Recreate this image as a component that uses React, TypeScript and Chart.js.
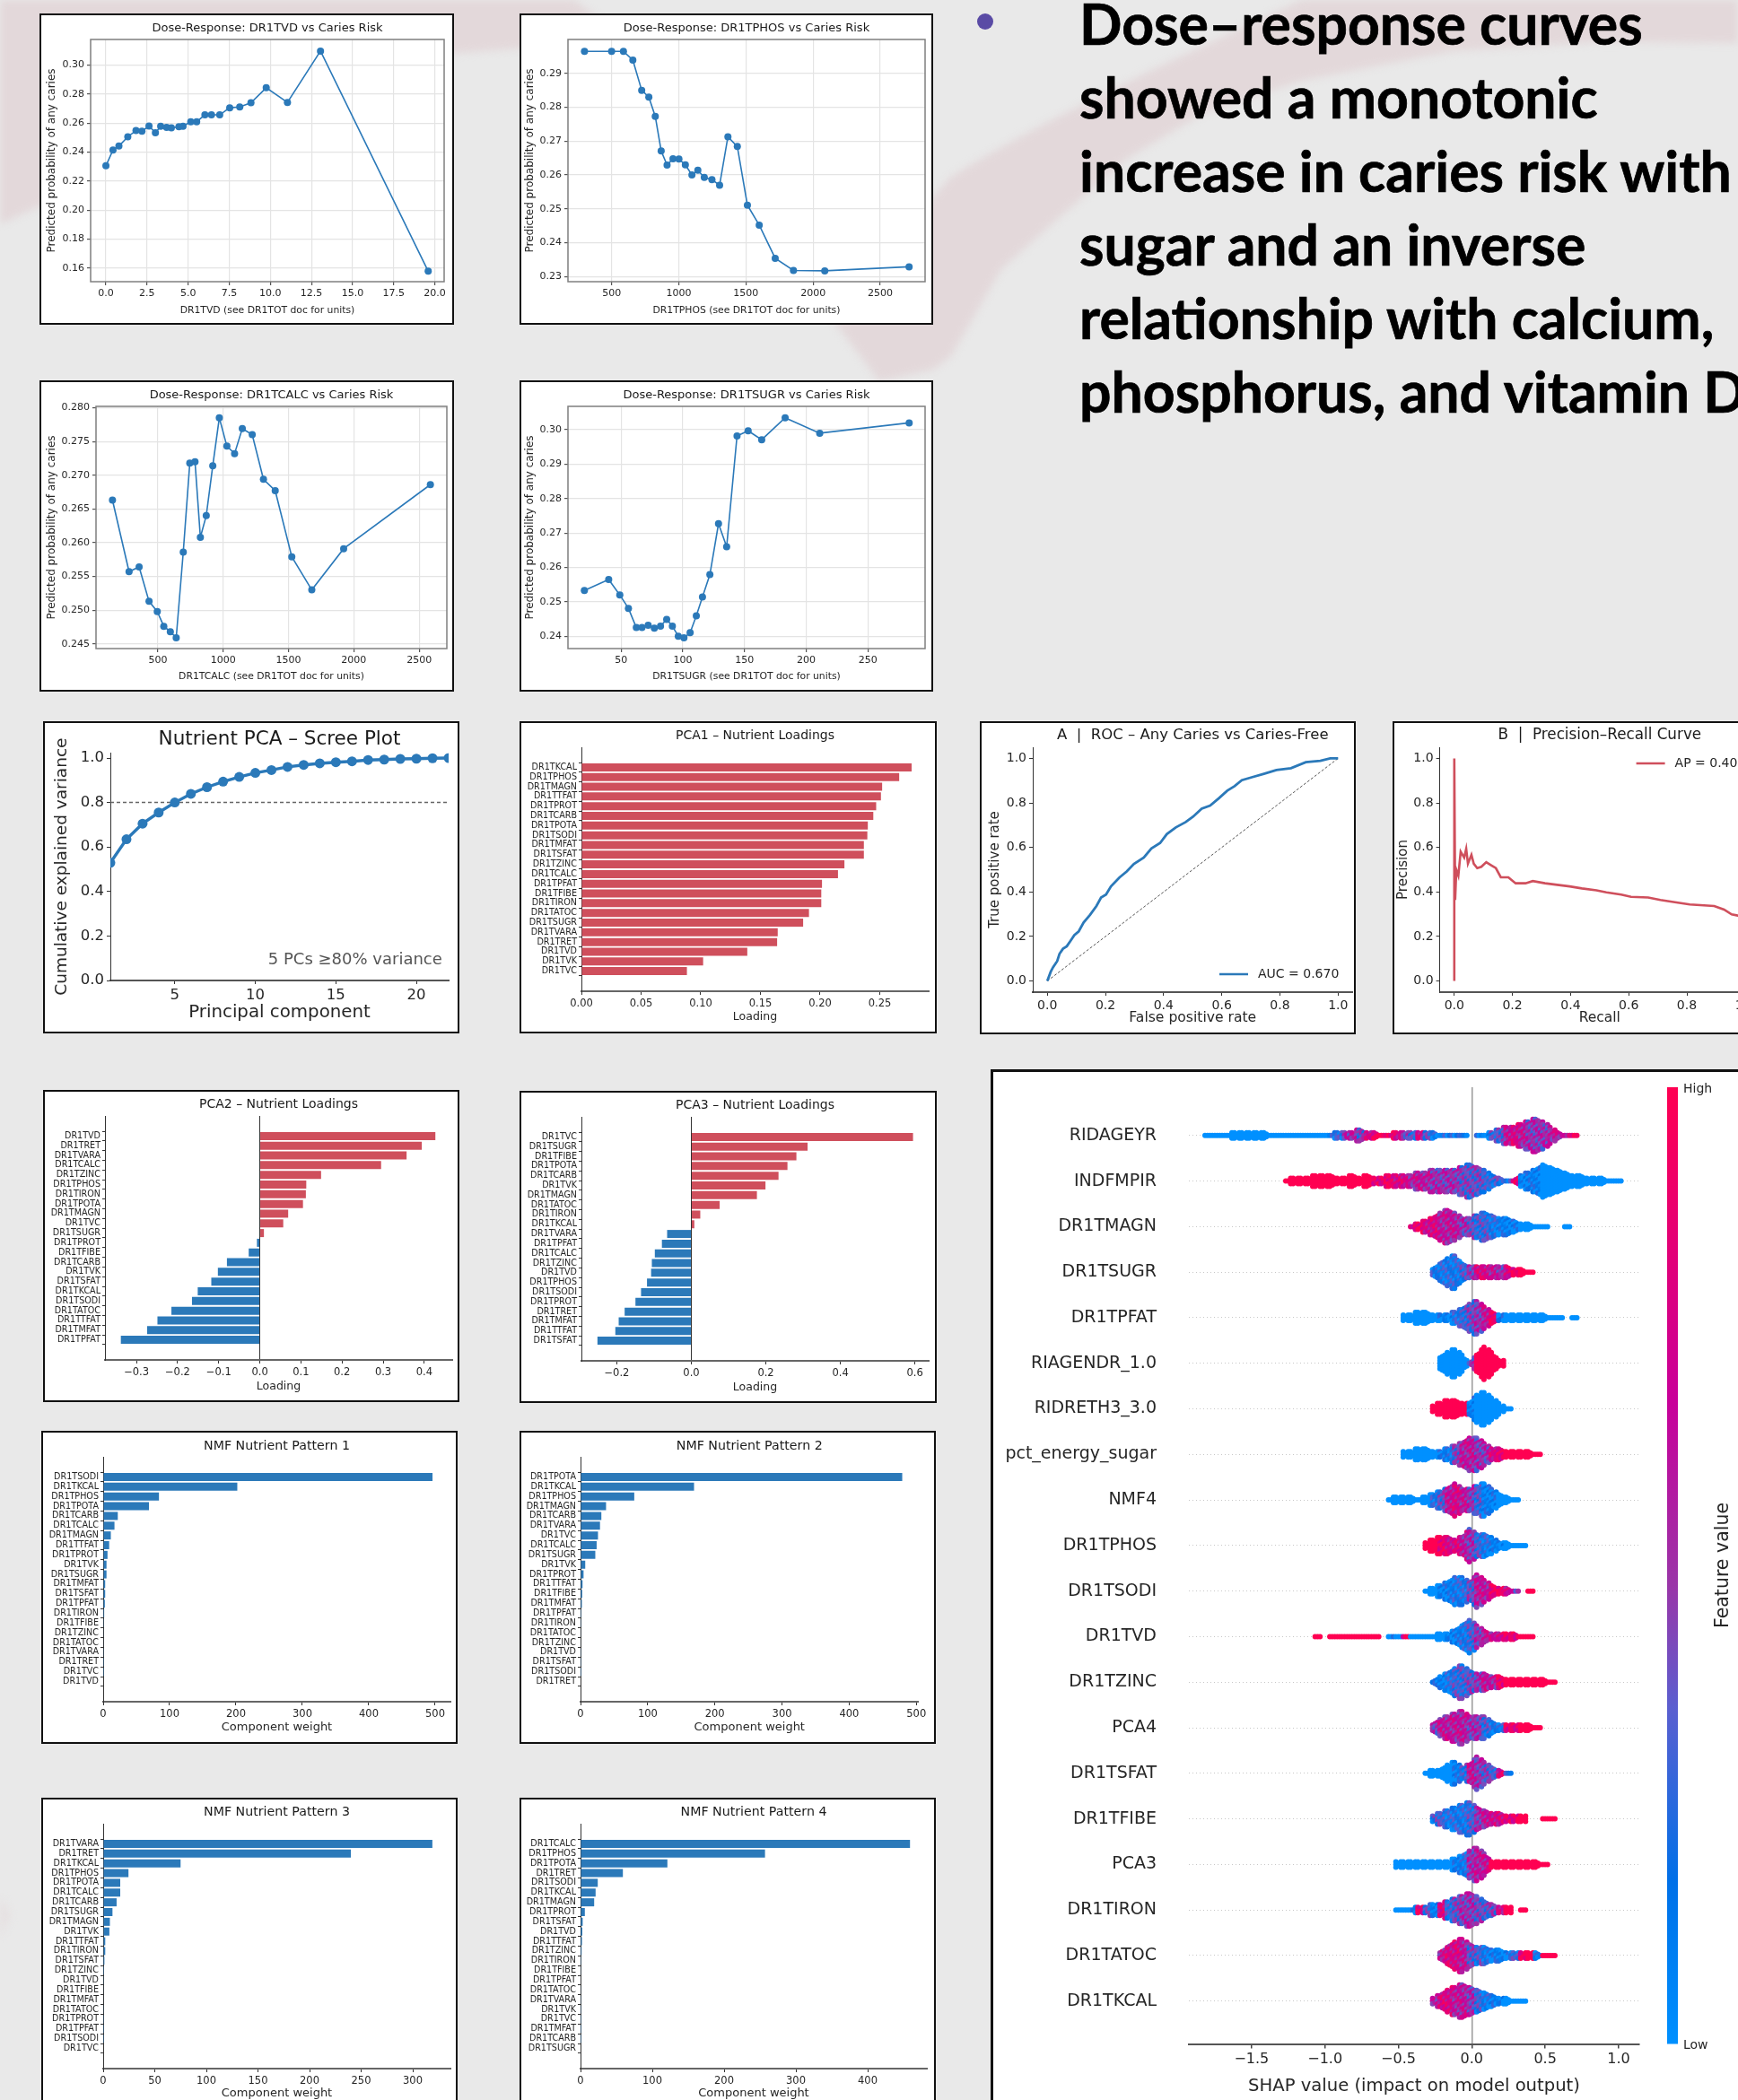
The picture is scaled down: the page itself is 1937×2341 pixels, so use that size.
import React, { useEffect, useRef } from "react";
import { Chart, registerables } from "chart.js";

Chart.register(...registerables);
Chart.defaults.font.family = '"DejaVu Sans", sans-serif';
Chart.defaults.color = "#262626";

const BLUE = "#2b79b9";
const RED = "#cf4f5c";

/* ---------- Dose-response ---------- */
const TVD_X = [0, 0.43, 0.79, 1.33, 1.83, 2.19, 2.62, 3.01, 3.33, 3.69, 3.98, 4.44, 4.69, 5.16, 5.52, 6.02, 6.42, 6.92, 7.53, 8.14, 8.82, 9.75, 11.04, 13.05, 19.6];
const TVD_Y = [0.2306, 0.2415, 0.2442, 0.2506, 0.2549, 0.2545, 0.258, 0.2533, 0.2578, 0.2571, 0.2567, 0.2575, 0.2579, 0.261, 0.261, 0.2657, 0.2657, 0.2657, 0.2706, 0.2712, 0.2741, 0.2844, 0.2743, 0.3097, 0.1579];
const TPHOS_X = [298, 500, 588, 658, 724, 777, 825, 869, 913, 957, 1001, 1049, 1098, 1142, 1190, 1247, 1304, 1366, 1436, 1511, 1599, 1718, 1854, 2087, 2715];
const TPHOS_Y = [0.2965, 0.2965, 0.2965, 0.2939, 0.285, 0.283, 0.2773, 0.2671, 0.2629, 0.2648, 0.2647, 0.263, 0.26, 0.2614, 0.2593, 0.2586, 0.257, 0.2713, 0.2684, 0.2511, 0.2452, 0.2354, 0.2318, 0.2317, 0.2329];
const TCALC_X = [152, 279, 356, 432, 495, 545, 595, 640, 694, 744, 784, 825, 870, 920, 970, 1028, 1087, 1146, 1222, 1308, 1398, 1525, 1678, 1922, 2586];
const TCALC_Y = [0.2663, 0.2557, 0.2564, 0.2513, 0.2498, 0.2476, 0.2468, 0.2459, 0.2586, 0.2718, 0.272, 0.2608, 0.264, 0.2714, 0.2785, 0.2743, 0.2732, 0.2769, 0.276, 0.2694, 0.2677, 0.2579, 0.253, 0.2591, 0.2686];
const TSUGR_X = [20.3, 40, 49, 56, 62.4, 67, 72, 77, 82, 87, 91.6, 96.4, 101, 106, 111, 116, 122, 129, 135.6, 144, 153, 164, 183, 211, 283.5];
const TSUGR_Y = [0.2533, 0.2565, 0.252, 0.2481, 0.2425, 0.2425, 0.2432, 0.2423, 0.2429, 0.2449, 0.2429, 0.24, 0.2395, 0.241, 0.2459, 0.2514, 0.2579, 0.2727, 0.266, 0.2982, 0.2997, 0.2971, 0.3035, 0.299, 0.302];

/* ---------- Scree ---------- */
const SCREE_PC = [1, 2, 3, 4, 5, 6, 7, 8, 9, 10, 11, 12, 13, 14, 15, 16, 17, 18, 19, 20, 21, 22];
const SCREE_CUM = [0.529, 0.635, 0.705, 0.755, 0.8, 0.839, 0.869, 0.894, 0.915, 0.933, 0.946, 0.96, 0.969, 0.976, 0.981, 0.985, 0.991, 0.993, 0.996, 0.997, 0.999, 1.0];

/* ---------- PCA loadings ---------- */
const PCA1_LABELS = ["DR1TKCAL", "DR1TPHOS", "DR1TMAGN", "DR1TTFAT", "DR1TPROT", "DR1TCARB", "DR1TPOTA", "DR1TSODI", "DR1TMFAT", "DR1TSFAT", "DR1TZINC", "DR1TCALC", "DR1TPFAT", "DR1TFIBE", "DR1TIRON", "DR1TATOC", "DR1TSUGR", "DR1TVARA", "DR1TRET", "DR1TVD", "DR1TVK", "DR1TVC"];
const PCA1_VALUES = [0.2767, 0.2663, 0.252, 0.251, 0.247, 0.2446, 0.24, 0.2396, 0.2367, 0.2367, 0.2204, 0.215, 0.2016, 0.201, 0.201, 0.1907, 0.1858, 0.1645, 0.164, 0.139, 0.102, 0.0884];
const PCA2_LABELS = ["DR1TVD", "DR1TRET", "DR1TVARA", "DR1TCALC", "DR1TZINC", "DR1TPHOS", "DR1TIRON", "DR1TPOTA", "DR1TMAGN", "DR1TVC", "DR1TSUGR", "DR1TPROT", "DR1TFIBE", "DR1TCARB", "DR1TVK", "DR1TSFAT", "DR1TKCAL", "DR1TSODI", "DR1TATOC", "DR1TTFAT", "DR1TMFAT", "DR1TPFAT"];
const PCA2_VALUES = [0.427, 0.394, 0.357, 0.295, 0.149, 0.113, 0.112, 0.105, 0.069, 0.057, 0.01, -0.007, -0.027, -0.08, -0.102, -0.118, -0.151, -0.165, -0.215, -0.249, -0.274, -0.338];
const PCA3_LABELS = ["DR1TVC", "DR1TSUGR", "DR1TFIBE", "DR1TPOTA", "DR1TCARB", "DR1TVK", "DR1TMAGN", "DR1TATOC", "DR1TIRON", "DR1TKCAL", "DR1TVARA", "DR1TPFAT", "DR1TCALC", "DR1TZINC", "DR1TVD", "DR1TPHOS", "DR1TSODI", "DR1TPROT", "DR1TRET", "DR1TMFAT", "DR1TTFAT", "DR1TSFAT"];
const PCA3_VALUES = [0.595, 0.312, 0.282, 0.258, 0.234, 0.199, 0.176, 0.076, 0.024, 0.008, -0.065, -0.079, -0.098, -0.106, -0.108, -0.119, -0.135, -0.15, -0.179, -0.195, -0.204, -0.252];

/* ---------- NMF patterns ---------- */
const NMF1_LABELS = ["DR1TSODI", "DR1TKCAL", "DR1TPHOS", "DR1TPOTA", "DR1TCARB", "DR1TCALC", "DR1TMAGN", "DR1TTFAT", "DR1TPROT", "DR1TVK", "DR1TSUGR", "DR1TMFAT", "DR1TSFAT", "DR1TPFAT", "DR1TIRON", "DR1TFIBE", "DR1TZINC", "DR1TATOC", "DR1TVARA", "DR1TRET", "DR1TVC", "DR1TVD"];
const NMF1_VALUES = [496, 202, 84, 69, 22, 17, 11.5, 9, 6.5, 5, 5, 3, 3, 2.5, 1.5, 1, 0.8, 0.6, 0.4, 0.2, 0.1, 0];
const NMF2_LABELS = ["DR1TPOTA", "DR1TKCAL", "DR1TPHOS", "DR1TMAGN", "DR1TCARB", "DR1TVARA", "DR1TVC", "DR1TCALC", "DR1TSUGR", "DR1TVK", "DR1TPROT", "DR1TTFAT", "DR1TFIBE", "DR1TMFAT", "DR1TPFAT", "DR1TIRON", "DR1TATOC", "DR1TZINC", "DR1TVD", "DR1TSFAT", "DR1TSODI", "DR1TRET"];
const NMF2_VALUES = [479, 169, 80, 38, 31, 29, 26, 24, 22, 7, 4.5, 3, 2.5, 2, 1.2, 1, 0.8, 0.6, 0.4, 0.3, 0.1, 0];
const NMF3_LABELS = ["DR1TVARA", "DR1TRET", "DR1TKCAL", "DR1TPHOS", "DR1TPOTA", "DR1TCALC", "DR1TCARB", "DR1TSUGR", "DR1TMAGN", "DR1TVK", "DR1TTFAT", "DR1TIRON", "DR1TSFAT", "DR1TZINC", "DR1TVD", "DR1TFIBE", "DR1TMFAT", "DR1TATOC", "DR1TPROT", "DR1TPFAT", "DR1TSODI", "DR1TVC"];
const NMF3_VALUES = [319, 240, 75, 24.5, 16.5, 16.5, 13, 9, 6.5, 6, 2, 2, 1.2, 0.8, 0.6, 0.5, 0.4, 0.3, 0.2, 0.1, 0.1, 0];
const NMF4_LABELS = ["DR1TCALC", "DR1TPHOS", "DR1TPOTA", "DR1TRET", "DR1TSODI", "DR1TKCAL", "DR1TMAGN", "DR1TPROT", "DR1TSFAT", "DR1TVD", "DR1TTFAT", "DR1TZINC", "DR1TIRON", "DR1TFIBE", "DR1TPFAT", "DR1TATOC", "DR1TVARA", "DR1TVK", "DR1TVC", "DR1TMFAT", "DR1TCARB", "DR1TSUGR"];
const NMF4_VALUES = [459, 257, 121, 59, 24, 21, 19, 6, 3, 2.5, 2, 1.5, 1, 0.8, 0.6, 0.5, 0.4, 0.3, 0.2, 0.1, 0.1, 0];

/* ---------- ROC / PR ---------- */
const ROC_FPR = [0, 0.012, 0.02, 0.034, 0.042, 0.054, 0.067, 0.079, 0.093, 0.108, 0.125, 0.147, 0.169, 0.185, 0.202, 0.219, 0.248, 0.273, 0.298, 0.332, 0.358, 0.388, 0.411, 0.442, 0.476, 0.501, 0.531, 0.56, 0.59, 0.619, 0.644, 0.669, 0.703, 0.745, 0.788, 0.838, 0.889, 0.939, 0.973, 1];
const ROC_TPR = [0, 0.042, 0.062, 0.089, 0.122, 0.145, 0.156, 0.179, 0.206, 0.223, 0.263, 0.297, 0.337, 0.375, 0.388, 0.425, 0.465, 0.492, 0.526, 0.555, 0.595, 0.62, 0.66, 0.69, 0.714, 0.738, 0.774, 0.788, 0.821, 0.855, 0.875, 0.902, 0.915, 0.931, 0.948, 0.956, 0.983, 0.989, 1, 1];
const PR_RECALL = [0, 0, 0.003, 0.007, 0.014, 0.022, 0.034, 0.041, 0.047, 0.059, 0.067, 0.079, 0.093, 0.11, 0.127, 0.143, 0.16, 0.186, 0.211, 0.245, 0.27, 0.312, 0.354, 0.397, 0.439, 0.489, 0.523, 0.574, 0.608, 0.667, 0.709, 0.759, 0.81, 0.894, 0.928, 0.954, 0.975, 1];
const PR_PRECISION = [0, 1, 0.364, 0.5, 0.473, 0.581, 0.554, 0.594, 0.527, 0.567, 0.527, 0.507, 0.513, 0.534, 0.52, 0.507, 0.466, 0.466, 0.439, 0.439, 0.449, 0.439, 0.432, 0.425, 0.416, 0.407, 0.398, 0.388, 0.378, 0.375, 0.364, 0.354, 0.344, 0.337, 0.321, 0.299, 0.294, 0.29];

/* ---------- SHAP: per feature, a profile in 0.05-wide bins:
   the first SHAP value, the stack size in each bin, and the mean feature value (0-9) in each bin */
const SHAP_FEATURES = ["RIDAGEYR", "INDFMPIR", "DR1TMAGN", "DR1TSUGR", "DR1TPFAT", "RIAGENDR_1.0", "RIDRETH3_3.0", "pct_energy_sugar", "NMF4", "DR1TPHOS", "DR1TSODI", "DR1TVD", "DR1TZINC", "PCA4", "DR1TSFAT", "DR1TFIBE", "PCA3", "DR1TIRON", "DR1TATOC", "DR1TKCAL"];
const SHAP_START = [-1.8, -1.25, -0.4, -0.25, -0.45, -0.2, -0.25, -0.45, -0.55, -0.3, -0.3, -1.05, -0.25, -0.25, -0.3, -0.25, -0.5, -0.5, -0.2, -0.25];
const SHAP_STACKS = [
  [1, 1, 1, 1, 2, 2, 2, 2, 2, 1, 1, 1, 1, 1, 1, 1, 1, 1, 2, 2, 2, 3, 2, 2, 1, 1, 2, 2, 2, 2, 2, 2, 1, 1, 1, 1, 0, 1, 1, 2, 3, 4, 4, 5, 6, 7, 6, 4, 2, 1, 1],
  [1, 2, 2, 2, 3, 3, 3, 2, 2, 3, 2, 3, 2, 2, 3, 3, 3, 3, 4, 4, 5, 5, 5, 5, 6, 7, 6, 5, 3, 2, 1, 1, 3, 4, 5, 7, 6, 5, 4, 3, 3, 2, 2, 2, 1, 1],
  [1, 2, 3, 4, 6, 7, 6, 4, 4, 5, 6, 5, 4, 4, 3, 2, 2, 1, 1, 0, 0, 1],
  [2, 4, 6, 7, 4, 3, 3, 3, 3, 3, 3, 2, 2, 1],
  [2, 2, 3, 3, 2, 2, 2, 3, 4, 6, 7, 5, 3, 2, 2, 2, 2, 2, 2, 2, 1, 1, 0, 1],
  [3, 5, 6, 4, 1, 4, 7, 5, 2],
  [2, 3, 4, 4, 3, 3, 6, 7, 5, 3, 1],
  [2, 2, 3, 3, 2, 2, 3, 4, 5, 7, 7, 5, 3, 3, 2, 2, 2, 2, 1],
  [1, 2, 2, 2, 1, 2, 3, 4, 5, 7, 5, 5, 6, 7, 5, 3, 2, 1],
  [2, 3, 4, 4, 3, 4, 7, 5, 5, 4, 2, 2, 1, 1],
  [1, 2, 3, 4, 6, 6, 4, 7, 5, 3, 2, 2, 1, 0, 1],
  [1, 0, 1, 1, 1, 1, 1, 1, 1, 0, 1, 1, 1, 1, 1, 1, 1, 2, 2, 3, 5, 7, 5, 3, 2, 2, 2, 2, 1, 1],
  [1, 3, 4, 6, 7, 5, 4, 4, 3, 3, 2, 2, 2, 2, 2, 2, 1],
  [2, 4, 5, 6, 7, 5, 5, 5, 3, 2, 2, 2, 2, 2, 1],
  [1, 2, 2, 4, 5, 3, 4, 7, 5, 3, 2, 1],
  [2, 3, 4, 5, 6, 7, 5, 4, 3, 3, 2, 2, 2, 0, 0, 1, 1],
  [2, 2, 2, 2, 2, 2, 2, 2, 3, 4, 6, 7, 5, 2, 2, 2, 2, 2, 2, 2, 1],
  [1, 1, 1, 2, 2, 3, 3, 4, 5, 6, 7, 6, 4, 3, 2, 2, 0, 1],
  [2, 4, 6, 7, 5, 4, 4, 3, 3, 2, 2, 2, 2, 2, 1, 1],
  [2, 3, 5, 6, 7, 6, 5, 4, 3, 2, 2, 1, 1],
];
const SHAP_TONES = [
  [0, 0, 0, 0, 0, 0, 0, 0, 0, 0, 0, 0, 0, 0, 0, 0, 0, 2, 3, 5, 6, 4, 7, 8, 8, 8, 7, 5, 3, 7, 3, 2, 2, 2, 1, 1, 1, 1, 1, 3, 4, 6, 7, 6, 5, 5, 5, 6, 6, 7, 8],
  [9, 9, 9, 9, 9, 9, 9, 9, 9, 9, 9, 9, 8, 8, 8, 7, 7, 6, 6, 6, 5, 5, 5, 5, 4, 4, 4, 3, 3, 3, 3, 8, 1, 1, 1, 0, 0, 0, 0, 0, 0, 0, 0, 0, 0, 0],
  [8, 8, 7, 7, 6, 6, 6, 5, 4, 3, 3, 2, 1, 1, 1, 0, 0, 0, 0, 0, 0, 0],
  [2, 2, 2, 2, 3, 5, 7, 7, 6, 5, 7, 8, 9, 9],
  [0, 0, 0, 0, 0, 1, 1, 2, 3, 4, 5, 6, 8, 1, 0, 0, 0, 0, 0, 0, 0, 0, 0, 0],
  [0, 0, 0, 0, 5, 9, 9, 9, 9],
  [9, 9, 9, 9, 9, 1, 0, 0, 0, 0, 0],
  [0, 0, 0, 0, 0, 1, 2, 4, 6, 6, 5, 5, 7, 8, 9, 9, 9, 9, 9],
  [0, 0, 0, 0, 0, 0, 2, 4, 6, 7, 6, 5, 3, 1, 1, 0, 0, 0],
  [9, 9, 8, 7, 7, 6, 5, 3, 2, 1, 1, 0, 0, 0],
  [0, 0, 1, 1, 2, 2, 4, 6, 6, 8, 8, 7, 5, 5, 9],
  [9, 9, 9, 9, 9, 9, 9, 9, 9, 9, 1, 0, 8, 0, 0, 0, 0, 0, 1, 1, 2, 3, 5, 6, 6, 7, 8, 8, 9, 9],
  [1, 1, 2, 3, 3, 4, 5, 6, 6, 8, 9, 9, 9, 9, 9, 9, 9],
  [5, 6, 6, 6, 6, 5, 5, 3, 2, 2, 8, 8, 9, 9, 9],
  [0, 0, 0, 0, 1, 3, 6, 5, 4, 3, 7, 2],
  [3, 3, 2, 2, 2, 3, 5, 6, 7, 7, 8, 8, 9, 9, 9, 9, 9],
  [0, 0, 0, 0, 0, 0, 0, 0, 1, 2, 5, 6, 6, 9, 9, 9, 9, 9, 9, 9, 9],
  [0, 0, 1, 8, 3, 1, 7, 3, 4, 5, 5, 4, 4, 4, 7, 9, 9, 9],
  [6, 7, 7, 6, 4, 3, 2, 1, 1, 1, 3, 8, 9, 2, 9, 9],
  [6, 7, 7, 6, 6, 5, 3, 2, 1, 1, 0, 0, 0],
];

const HEADING_LINES = ["Dose–response curves", "showed a monotonic", "increase in caries risk with", "sugar and an inverse", "relationship with calcium,", "phosphorus, and vitamin D"];

/* ---------- helpers ---------- */
type Rect = { l: number; t: number; r: number; b: number };
type Frame = {
  panel: Rect; plot: Rect; title?: string; titleSize?: number; titleCenter?: number;
  xTitleCenter?: number; yTitleCenter?: number; xTitleSize?: number; yTitleSize?: number;
};

function pairs(xs: number[], ys: number[]) {
  return xs.map((x, i) => ({ x, y: ys[i] }));
}

function frameOptions(f: Frame) {
  const lh = (s: number) => s * 1.2;
  const xBox = f.xTitleCenter !== undefined ? f.xTitleCenter - f.plot.b + lh(f.xTitleSize!) / 2 : 40;
  const yBox = f.yTitleCenter !== undefined ? f.plot.l - f.yTitleCenter + lh(f.yTitleSize!) / 2 : f.plot.l - f.panel.l;
  const titleBox = f.plot.t - f.panel.t;
  const ts = f.titleSize ?? 13;
  const topPad = f.titleCenter !== undefined ? f.titleCenter - f.panel.t - ts / 2 : 0;
  return {
    xBox, yBox,
    layout: {
      autoPadding: false,
      padding: {
        left: f.plot.l - f.panel.l - yBox,
        right: f.panel.r - f.plot.r,
        top: f.title ? 0 : titleBox,
        bottom: f.panel.b - f.plot.b - xBox,
      },
    },
    title: f.title
      ? {
          display: true, text: f.title, fullSize: false, color: "#1a1a1a",
          font: { size: ts, weight: "normal", lineHeight: 1 },
          padding: { top: topPad, bottom: titleBox - topPad - ts },
        }
      : { display: false },
  };
}

function linearAxis(o: any) {
  const sign = (s: string) => s.replace("-", "−");
  return {
    type: "linear",
    min: o.min, max: o.max, reverse: !!o.reverse,
    afterBuildTicks: (a: any) => { a.ticks = o.ticks.map((v: number) => ({ value: v })); },
    afterFit: (s: any) => { if (s.isHorizontal()) s.height = o.box; else s.width = o.box; },
    ticks: {
      autoSkip: false, maxRotation: 0, color: "#262626",
      font: { size: o.size }, padding: o.pad ?? 3,
      callback: o.labels ? (v: number) => o.labels[v] ?? "" : (v: number) => sign(Number(v).toFixed(o.dec ?? 0)),
    },
    grid: o.grid ?? { drawOnChartArea: false, tickLength: 4, tickColor: "#333" },
    border: o.border ?? { display: true, color: "#333", width: 1 },
    title: o.title
      ? { display: true, text: o.title, color: "#262626", font: { size: o.titleSize, lineHeight: 1.2 }, padding: 0 }
      : { display: false },
  };
}

const framePlugin = {
  id: "frame",
  afterDatasetsDraw(c: any) {
    const a = c.chartArea;
    c.ctx.save();
    c.ctx.strokeStyle = "#7f7f7f";
    c.ctx.lineWidth = 1.5;
    c.ctx.strokeRect(a.left, a.top, a.right - a.left, a.bottom - a.top);
    c.ctx.restore();
  },
};

function legendPlugin(text: string, color: string, dx: number, dy: number) {
  return {
    id: "lineLegend",
    afterDraw(c: any) {
      const a = c.chartArea, ctx = c.ctx;
      const x = a.left + dx, y = a.top + dy;
      ctx.save();
      ctx.strokeStyle = color; ctx.lineWidth = 2.5;
      ctx.beginPath(); ctx.moveTo(x, y); ctx.lineTo(x + 32, y); ctx.stroke();
      ctx.fillStyle = "#262626"; ctx.font = '14px "DejaVu Sans"';
      ctx.textAlign = "left"; ctx.textBaseline = "middle";
      ctx.fillText(text, x + 43, y);
      ctx.restore();
    },
  };
}

/* ---------- chart specs ---------- */
function doseSpec(f: Frame, xs: number[], ys: number[], xr: number[], yr: number[], xt: number[], yt: number[], xDec: number, yDec: number, xTitle: string) {
  const fo = frameOptions(f);
  const grid = { color: "#e4e4e4", lineWidth: 1.2, tickLength: 4, tickColor: "#555" };
  return {
    frame: f,
    config: {
      type: "line",
      data: { datasets: [{ data: pairs(xs, ys), borderColor: BLUE, backgroundColor: BLUE, borderWidth: 1.6, pointRadius: 4, pointBackgroundColor: BLUE, pointBorderWidth: 0, tension: 0 }] },
      options: {
        layout: fo.layout,
        plugins: { legend: { display: false }, title: fo.title },
        scales: {
          x: linearAxis({ min: xr[0], max: xr[1], ticks: xt, dec: xDec, size: 11, box: fo.xBox, title: xTitle, titleSize: f.xTitleSize, grid, border: { display: false } }),
          y: linearAxis({ min: yr[0], max: yr[1], ticks: yt, dec: yDec, size: 11, box: fo.yBox, title: "Predicted probability of any caries", titleSize: f.yTitleSize, grid, border: { display: false } }),
        },
      },
      plugins: [framePlugin],
    },
  };
}

function barSpec(f: Frame, labels: string[], values: number[], xr: number[], xt: number[], dec: number, xTitle: string, signed: boolean, allRed = false) {
  const fo = frameOptions(f);
  const xGrid = {
    color: (c: any) => (c.tick && c.tick.value === 0 && signed ? "#333" : "rgba(0,0,0,0)"),
    lineWidth: 1, tickLength: 4, tickColor: "#333",
  };
  return {
    frame: f,
    config: {
      type: "bar",
      data: {
        datasets: [{
          data: labels.map((_, i) => ({ x: values[i], y: i })),
          backgroundColor: values.map((v) => (allRed ? RED : signed && v >= 0 ? RED : BLUE)),
          borderWidth: 0,
          barPercentage: 0.83, categoryPercentage: 1,
        }],
      },
      options: {
        indexAxis: "y",
        layout: fo.layout,
        plugins: { legend: { display: false }, title: fo.title },
        scales: {
          x: linearAxis({ min: xr[0], max: xr[1], ticks: xt, dec, size: 11.5, box: fo.xBox, title: xTitle, titleSize: f.xTitleSize, grid: xGrid, border: { display: true, color: "#666", width: 2 } }),
          y: linearAxis({ min: -1.5, max: 22.5, reverse: true, ticks: labels.map((_, i) => i), labels, size: 9.6, box: fo.yBox, pad: 2, grid: { drawOnChartArea: false, tickLength: 3, tickColor: "#333" }, border: { display: true, color: "#333", width: 1 } }),
        },
      },
    },
  };
}

const nmf = (l: number, r: number, t: number, b: number, pl: number, pr: number, title: string, tc: number, xtc: number): Frame => ({
  panel: { l, t, r, b }, plot: { l: pl, t: t + 29, r: pr, b: t + 302 }, title, titleSize: 14.2, titleCenter: tc, xTitleCenter: xtc, xTitleSize: 13,
});

const TICKS_22 = [0, 100, 200, 300, 400, 500];

/* colour ramp of the SHAP colour bar */
const RAMP: [number, number[]][] = [
  [0, [0, 144, 255]], [0.17, [0, 112, 232]], [0.35, [90, 95, 208]], [0.48, [154, 53, 168]], [0.67, [200, 0, 154]], [1, [255, 0, 82]],
];
function ramp(v: number) {
  const t = Math.max(0, Math.min(1, v));
  for (let i = 1; i < RAMP.length; i++) {
    if (t <= RAMP[i][0]) {
      const [a, ca] = RAMP[i - 1], [b, cb] = RAMP[i];
      const f = (t - a) / (b - a);
      return `rgb(${ca.map((c, k) => Math.round(c + (cb[k] - c) * f)).join(",")})`;
    }
  }
  return "rgb(255,0,82)";
}
const DOT_GAP = 0.059;
const TONE_SHIFT = [-0.18, 0.1, -0.04, 0.16, -0.12, 0.03, 0.2, -0.22, 0.06, -0.08, 0.13];
function shapDataset(row: number) {
  const data: { x: number; y: number }[] = [];
  const colours: string[] = [];
  const stacks = SHAP_STACKS[row];
  stacks.forEach((n, b) => {
    if (!n) return;
    const next = stacks[b + 1] || n;
    const x = SHAP_START[row] + b * 0.05;
    const tone = SHAP_TONES[row][b] ?? 4;
    const mid = tone > 0 && tone < 9 ? 1 : 0;
    const base = mid ? Math.pow(tone / 9, 1.2) : tone / 9;
    [0, 1, 2].forEach((col) => {
      const f = col / 3;
      const top = Math.round(n + (next - n) * f - 1);
      const lift = col === 1 && top > 0 ? 0.5 : 0;
      for (let k = -top; k <= top - (lift ? 1 : 0); k++) {
        data.push({ x: x - 0.017 + f * 0.05, y: row + (k + lift) * DOT_GAP });
        const shift = TONE_SHIFT[Math.abs(b * 7 + k * 3 + col * 5 + row) % 11] * mid;
        colours.push(ramp(base + shift));
      }
    });
  });
  return { data, backgroundColor: colours, pointBackgroundColor: colours, pointRadius: 3, pointBorderWidth: 0, showLine: false };
}

const shapBar = {
  id: "shapBar",
  afterDraw(c: any) {
    const a = c.chartArea, ctx = c.ctx;
    const x = a.right + 31;
    const g = ctx.createLinearGradient(0, a.top, 0, a.bottom);
    RAMP.forEach(([p, col]) => g.addColorStop(1 - p, `rgb(${col.join(",")})`));
    ctx.save();
    ctx.fillStyle = g;
    ctx.fillRect(x, a.top, 12, a.bottom - a.top);
    ctx.fillStyle = "#262626";
    ctx.font = '14px "DejaVu Sans"';
    ctx.textBaseline = "middle";
    ctx.fillText("High", x + 18, a.top + 2);
    ctx.fillText("Low", x + 18, a.bottom + 2);
    ctx.font = '20.5px "DejaVu Sans"';
    ctx.translate(x + 63, a.top + 533);
    ctx.rotate(-Math.PI / 2);
    ctx.textAlign = "center";
    ctx.fillText("Feature value", 0, 0);
    ctx.restore();
  },
};

const screeNote = {
  id: "screeNote",
  afterDraw(c: any) {
    const ctx = c.ctx;
    ctx.save();
    ctx.fillStyle = "#555";
    ctx.font = '18px "DejaVu Sans"';
    ctx.textAlign = "right";
    ctx.textBaseline = "middle";
    ctx.fillText("5 PCs ≥80% variance", c.scales.x.getPixelForValue(21.6), c.scales.y.getPixelForValue(0.09));
    ctx.restore();
  },
};

function buildSpecs() {
  const specs: any[] = [];
  specs.push(doseSpec(
    { panel: { l: 44, t: 15, r: 506, b: 362 }, plot: { l: 101, t: 44, r: 495, b: 314 }, title: "Dose-Response: DR1TVD vs Caries Risk", titleCenter: 31.7, xTitleCenter: 345.7, yTitleCenter: 57.6, xTitleSize: 10.8, yTitleSize: 12 },
    TVD_X, TVD_Y, [-0.93, 20.57], [0.1507, 0.3177], [0, 2.5, 5, 7.5, 10, 12.5, 15, 17.5, 20], [0.16, 0.18, 0.2, 0.22, 0.24, 0.26, 0.28, 0.3], 1, 2, "DR1TVD (see DR1TOT doc for units)"));
  specs.push(doseSpec(
    { panel: { l: 579, t: 15, r: 1040, b: 362 }, plot: { l: 633, t: 44, r: 1031, b: 314 }, title: "Dose-Response: DR1TPHOS vs Caries Risk", titleCenter: 31.7, xTitleCenter: 345.7, yTitleCenter: 590.5, xTitleSize: 10.8, yTitleSize: 12 },
    TPHOS_X, TPHOS_Y, [175, 2834], [0.2285, 0.3], [500, 1000, 1500, 2000, 2500], [0.23, 0.24, 0.25, 0.26, 0.27, 0.28, 0.29], 0, 2, "DR1TPHOS (see DR1TOT doc for units)"));
  specs.push(doseSpec(
    { panel: { l: 44, t: 424, r: 506, b: 771 }, plot: { l: 107, t: 453, r: 498, b: 723 }, title: "Dose-Response: DR1TCALC vs Caries Risk", titleCenter: 440.7, xTitleCenter: 754, yTitleCenter: 57.6, xTitleSize: 10.8, yTitleSize: 12 },
    TCALC_X, TCALC_Y, [26, 2712], [0.2443, 0.2802], [500, 1000, 1500, 2000, 2500], [0.245, 0.25, 0.255, 0.26, 0.265, 0.27, 0.275, 0.28], 0, 3, "DR1TCALC (see DR1TOT doc for units)"));
  specs.push(doseSpec(
    { panel: { l: 579, t: 424, r: 1040, b: 771 }, plot: { l: 633, t: 453, r: 1031, b: 723 }, title: "Dose-Response: DR1TSUGR vs Caries Risk", titleCenter: 440.7, xTitleCenter: 754, yTitleCenter: 590.5, xTitleSize: 10.8, yTitleSize: 12 },
    TSUGR_X, TSUGR_Y, [7, 296.4], [0.2364, 0.3068], [50, 100, 150, 200, 250], [0.24, 0.25, 0.26, 0.27, 0.28, 0.29, 0.3], 0, 2, "DR1TSUGR (see DR1TOT doc for units)"));

  /* scree */
  const sf: Frame = { panel: { l: 48, t: 804, r: 512, b: 1152 }, plot: { l: 123, t: 839.3, r: 500, b: 1093 }, title: "Nutrient PCA – Scree Plot", titleSize: 21.5, titleCenter: 824, xTitleCenter: 1129, yTitleCenter: 69.4, xTitleSize: 19.8, yTitleSize: 18.5 };
  const sfo = frameOptions(sf);
  specs.push({
    frame: sf,
    config: {
      type: "line",
      data: {
        datasets: [
          { data: pairs(SCREE_PC, SCREE_CUM), borderColor: BLUE, backgroundColor: BLUE, borderWidth: 3.4, pointRadius: 5.5, pointBackgroundColor: BLUE, pointBorderWidth: 0 },
          { data: pairs([1, 22], [0.8, 0.8]), borderColor: "#666", borderWidth: 1.5, borderDash: [4, 3], pointRadius: 0 },
        ],
      },
      options: {
        layout: sfo.layout,
        plugins: { legend: { display: false }, title: sfo.title },
        scales: {
          x: linearAxis({ min: 1, max: 22, ticks: [5, 10, 15, 20], size: 16.5, box: sfo.xBox, title: "Principal component", titleSize: 19.8, grid: { drawOnChartArea: false, tickLength: 4, tickColor: "#333" }, border: { display: true, color: "#555", width: 2 } }),
          y: linearAxis({ min: 0, max: 1.023, ticks: [0, 0.2, 0.4, 0.6, 0.8, 1], dec: 1, size: 16.5, box: sfo.yBox, title: "Cumulative explained variance", titleSize: 18.5 }),
        },
      },
      plugins: [screeNote],
    },
  });

  /* PCA loadings */
  specs.push(barSpec({ panel: { l: 579, t: 804, r: 1044, b: 1152 }, plot: { l: 648, t: 833, r: 1035, b: 1105 }, title: "PCA1 – Nutrient Loadings", titleSize: 14, titleCenter: 820, xTitleCenter: 1134, xTitleSize: 12.5 },
    PCA1_LABELS, PCA1_VALUES, [0, 0.291], [0, 0.05, 0.1, 0.15, 0.2, 0.25], 2, "Loading", false, true));
  specs.push(barSpec({ panel: { l: 48, t: 1215, r: 512, b: 1563 }, plot: { l: 117, t: 1244, r: 504, b: 1516 }, title: "PCA2 – Nutrient Loadings", titleSize: 14, titleCenter: 1231.7, xTitleCenter: 1546, xTitleSize: 12.5 },
    PCA2_LABELS, PCA2_VALUES, [-0.3766, 0.468], [-0.3, -0.2, -0.1, 0, 0.1, 0.2, 0.3, 0.4], 1, "Loading", true));
  specs.push(barSpec({ panel: { l: 579, t: 1216, r: 1044, b: 1564 }, plot: { l: 648, t: 1245, r: 1035, b: 1517 }, title: "PCA3 – Nutrient Loadings", titleSize: 14, titleCenter: 1232.3, xTitleCenter: 1546.7, xTitleSize: 12.5 },
    PCA3_LABELS, PCA3_VALUES, [-0.295, 0.637], [-0.2, 0, 0.2, 0.4, 0.6], 1, "Loading", true));

  /* NMF */
  specs.push(barSpec(nmf(46, 510, 1595, 1944, 115, 502, "NMF Nutrient Pattern 1", 1612, 1926), NMF1_LABELS, NMF1_VALUES, [0, 523], TICKS_22, 0, "Component weight", false));
  specs.push(barSpec(nmf(579, 1043, 1595, 1944, 647, 1023.5, "NMF Nutrient Pattern 2", 1612, 1926), NMF2_LABELS, NMF2_VALUES, [0, 503], TICKS_22, 0, "Component weight", false));
  specs.push(barSpec(nmf(46, 510, 2004, 2352, 115, 502, "NMF Nutrient Pattern 3", 2020, 2334), NMF3_LABELS, NMF3_VALUES, [0, 336.5], [0, 50, 100, 150, 200, 250, 300], 0, "Component weight", false));
  specs.push(barSpec(nmf(579, 1043, 2004, 2352, 647, 1033, "NMF Nutrient Pattern 4", 2020, 2334), NMF4_LABELS, NMF4_VALUES, [0, 482.5], [0, 100, 200, 300, 400], 0, "Component weight", false));

  /* ROC */
  const rf: Frame = { panel: { l: 1091.5, t: 804, r: 1510.5, b: 1153 }, plot: { l: 1150.5, t: 833, r: 1507, b: 1106 }, title: "A  |  ROC – Any Caries vs Caries-Free", titleSize: 16.5, titleCenter: 820, xTitleCenter: 1135, yTitleCenter: 1108.4, xTitleSize: 15.6, yTitleSize: 15 };
  const rfo = frameOptions(rf);
  const STEP = [0, 0.2, 0.4, 0.6, 0.8, 1];
  specs.push({
    frame: rf,
    config: {
      type: "line",
      data: {
        datasets: [
          { data: pairs(ROC_FPR, ROC_TPR), borderColor: BLUE, borderWidth: 2.8, pointRadius: 0 },
          { data: pairs([0, 1], [0, 1]), borderColor: "#555", borderWidth: 1, borderDash: [3, 2], pointRadius: 0 },
        ],
      },
      options: {
        layout: rfo.layout,
        plugins: { legend: { display: false }, title: rfo.title },
        scales: {
          x: linearAxis({ min: -0.05, max: 1.05, ticks: STEP, dec: 1, size: 14, box: rfo.xBox, title: "False positive rate", titleSize: 15.6, border: { display: true, color: "#555", width: 2 } }),
          y: linearAxis({ min: -0.05, max: 1.05, ticks: STEP, dec: 1, size: 14, box: rfo.yBox, title: "True positive rate", titleSize: 15 }),
        },
      },
      plugins: [legendPlugin("AUC = 0.670", BLUE, 208, 253)],
    },
  });

  /* PR */
  const pf: Frame = { panel: { l: 1552, t: 804, r: 1975, b: 1153 }, plot: { l: 1604.6, t: 833, r: 1961, b: 1106 }, title: "B  |  Precision–Recall Curve", titleSize: 16.8, titleCenter: 820, xTitleCenter: 1135, yTitleCenter: 1564, xTitleSize: 15.5, yTitleSize: 15 };
  const pfo = frameOptions(pf);
  specs.push({
    frame: pf,
    config: {
      type: "line",
      data: { datasets: [{ data: pairs(PR_RECALL, PR_PRECISION), borderColor: RED, borderWidth: 2.6, pointRadius: 0 }] },
      options: {
        layout: pfo.layout,
        plugins: { legend: { display: false }, title: pfo.title },
        scales: {
          x: linearAxis({ min: -0.05, max: 1.05, ticks: STEP, dec: 1, size: 14, box: pfo.xBox, title: "Recall", titleSize: 15.5, border: { display: true, color: "#555", width: 2 } }),
          y: linearAxis({ min: -0.05, max: 1.05, ticks: STEP, dec: 1, size: 14, box: pfo.yBox, title: "Precision", titleSize: 15 }),
        },
      },
      plugins: [legendPlugin("AP = 0.404", RED, 219, 18)],
    },
  });

  /* SHAP */
  const shf: Frame = { panel: { l: 1104, t: 1192, r: 1960, b: 2370 }, plot: { l: 1325, t: 1212, r: 1827, b: 2278.5 }, xTitleCenter: 2325.6, xTitleSize: 19.6 };
  const shfo = frameOptions(shf);
  specs.push({
    frame: shf, border: 3,
    config: {
      type: "scatter",
      data: { datasets: SHAP_FEATURES.map((_, r) => shapDataset(r)) },
      options: {
        layout: shfo.layout,
        plugins: { legend: { display: false }, title: { display: false } },
        scales: {
          x: linearAxis({
            min: -1.927, max: 1.141, ticks: [-1.5, -1, -0.5, 0, 0.5, 1], dec: 1, size: 16, box: shfo.xBox, title: "SHAP value (impact on model output)", titleSize: 19.6,
            grid: { color: (c: any) => (c.tick && c.tick.value === 0 ? "#9a9a9a" : "rgba(0,0,0,0)"), lineWidth: 1.5, tickLength: 5, tickColor: "#444" },
            border: { display: true, color: "#555", width: 2 },
          }),
          y: linearAxis({
            min: -1.06, max: 19.94, reverse: true, ticks: SHAP_FEATURES.map((_, i) => i), labels: SHAP_FEATURES, size: 19, box: shfo.yBox, pad: 2,
            grid: { color: "#c8c8c8", lineWidth: 1, drawTicks: true, tickLength: 34, tickColor: "rgba(0,0,0,0)" },
            border: { display: false, dash: [1, 3] },
          }),
        },
      },
      plugins: [shapBar],
    },
  });
  return specs;
}

function ChartPanel({ spec }: { spec: any }) {
  const ref = useRef<HTMLCanvasElement>(null);
  useEffect(() => {
    const cfg = spec.config;
    const chart = new Chart(ref.current!, {
      ...cfg,
      options: { ...cfg.options, responsive: false, maintainAspectRatio: false, animation: false, devicePixelRatio: 1 },
    });
    return () => chart.destroy();
  }, [spec]);
  const p = spec.frame.panel as Rect;
  const w = Math.round(p.r - p.l), h = Math.round(p.b - p.t);
  return (
    <div style={{ position: "absolute", left: p.l, top: p.t, width: w, height: h, background: "#fff" }}>
      <canvas ref={ref} width={w} height={h} style={{ position: "absolute", left: 0, top: 0, filter: "blur(0.45px)" }} />
      <div style={{ position: "absolute", inset: 0, border: `${spec.border ?? 2}px solid #111`, pointerEvents: "none" }} />
    </div>
  );
}

const SPECS = buildSpecs();

export default function App() {
  return (
    <div style={{ position: "absolute", left: 0, top: 0, width: 1937, height: 2341, overflow: "hidden", background: "#e9e9e9" }}>
      <svg width={1937} height={2341} style={{ position: "absolute", left: 0, top: 0, filter: "blur(4px)" }}>
        <path fill="#e3d8da" d="M0,0 L640,0 L700,45 L500,60 L44,230 L0,250 Z" />
        <path fill="#e3d8da" d="M1451,0 C1300,70 1170,130 1060,197 L923,350 L980,425 L1040,412 L1060,397 L1116,300 L1172,250 L1256,177 L1340,127 L1451,90 L1620,57 L1787,47 L1937,48 L1937,0 Z" />
        <path fill="#e6e0e1" d="M0,2115 L12,2135 L0,2160 Z" />
      </svg>
      {SPECS.map((s, i) => <ChartPanel key={i} spec={s} />)}
      <div style={{ position: "absolute", left: 1089, top: 15, width: 18, height: 18, borderRadius: "50%", background: "#5a4ba5" }} />
      <div style={{ position: "absolute", left: 1203, top: -15.5, whiteSpace: "pre", fontFamily: "Lato", fontWeight: 700, fontSize: 62.5, lineHeight: "82px", color: "#000", WebkitTextStroke: "0.7px #000" }}>
        {HEADING_LINES.join("\n")}
      </div>
    </div>
  );
}
